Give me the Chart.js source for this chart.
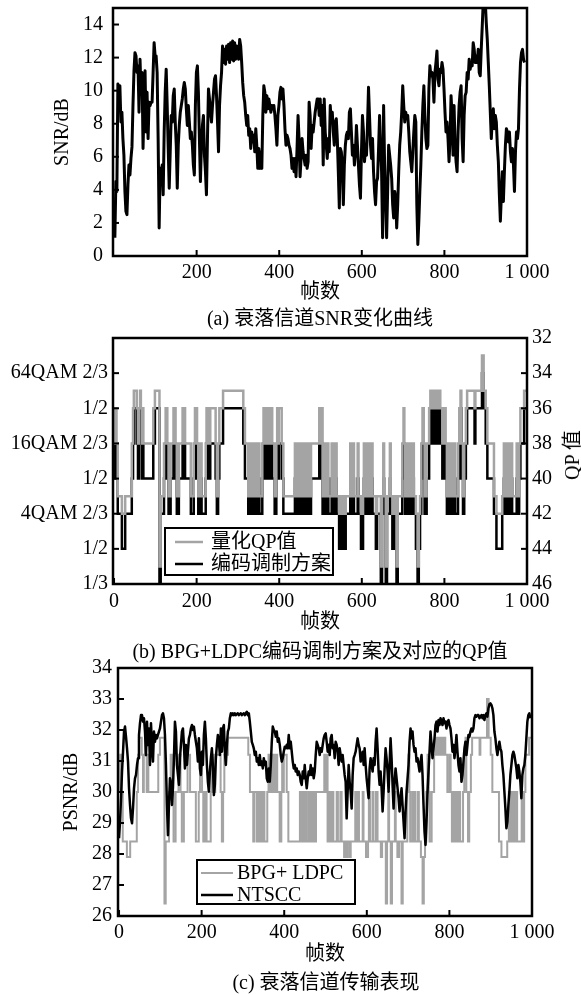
<!DOCTYPE html>
<html>
<head>
<meta charset="utf-8">
<script src="https://cdn.jsdelivr.net/npm/chart.js@4.4.1/dist/chart.umd.min.js"></script>
<style>
  body { margin: 0; background: #fff; }
  #page { position: relative; width: 581px; height: 995px; overflow: hidden;
          font-family: 'Liberation Serif', 'Noto Sans CJK SC', serif; color: #000; }
  canvas { position: absolute; left: 0; }
  .cap { position: absolute; font-size: 20px; line-height: 24px; white-space: nowrap;
         transform: translate(-50%, -50%); }
</style>
</head>
<body>
<div id="page">
  <canvas id="cA" width="581" height="330" style="top:0px"></canvas>
  <canvas id="cB" width="581" height="347" style="top:318px"></canvas>
  <canvas id="cC" width="581" height="342" style="top:653px"></canvas>
  <div class="cap" style="left:320px;top:318px">(a) 衰落信道SNR变化曲线</div>
  <div class="cap" style="left:320px;top:651px">(b) BPG+LDPC编码调制方案及对应的QP值</div>
  <div class="cap" style="left:326px;top:982px">(c) 衰落信道传输表现</div>
  <div class="cap" style="left:572px;top:455px;transform:translate(-50%,-50%) rotate(-90deg)">QP 值</div>
</div>
<script>
// (a) SNR per frame (about one value every 2.4 frames)
var snrDb = [
  1.1,4.5,3.9,10.4,9.1,10.3,8.1,8.7,7.1,6.1,
  3.9,2.7,2.5,4.3,5.5,4.9,5.9,6.6,9.1,11.2,
  12.3,12.1,11.1,11.5,8.7,11.9,9.9,11.1,6.5,9.1,
  11.2,7.5,9.9,7.1,9.3,9.1,9.3,9.3,11.1,12.9,
  12.1,12.1,11.1,7.1,1.7,5.3,4.5,5.5,3.7,7.5,
  9.9,11.3,9.1,6.5,4.1,6.3,8.5,8.1,9.7,10.1,
  8.1,6.7,4.1,6.7,7.9,8.7,9.1,9.5,10.1,10.5,
  10.1,8.9,7.9,9.1,8.1,7.1,7.5,6.7,5.5,4.9,
  9.1,11.1,11.5,9.9,7.1,4.5,6.7,7.9,8.5,6.1,
  5.1,3.7,7.1,10.1,9.5,8.7,8.1,9.1,9.9,10.7,
  10.9,9.7,8.1,6.3,9.1,10.3,11.1,12.7,11.7,12.5,
  11.6,12.7,11.9,12.8,11.7,12.9,11.9,13.0,11.8,12.9,
  11.9,12.7,12.5,11.9,13.1,12.7,11.7,10.5,9.7,9.3,
  8.5,7.9,8.5,7.3,7.7,6.5,7.5,6.9,7.3,6.3,
  7.7,6.7,5.3,6.5,5.3,6.3,5.3,8.5,10.3,9.9,
  8.7,9.7,8.9,9.5,9.1,8.7,9.1,8.9,9.1,8.5,
  7.7,6.7,8.5,9.1,9.9,10.2,9.5,10.1,9.1,7.7,
  6.7,7.3,7.1,6.7,6.5,6.1,5.3,5.9,5.1,5.9,
  4.8,6.5,8.5,7.1,4.8,5.9,7.1,6.3,5.9,5.5,
  6.1,5.3,5.7,9.3,8.5,6.5,7.9,7.5,8.1,8.7,
  9.1,9.5,9.5,
  8.5,9.5,7.9,9.1,5.5,9.5,7.5,6.7,5.9,7.1,
  6.3,9.1,8.1,8.7,7.5,6.7,8.1,8.3,7.1,5.1,
  2.9,6.5,6.3,5.5,3.1,5.5,6.7,7.3,7.5,7.1,
  8.7,8.9,7.5,6.1,6.7,5.5,6.3,7.9,6.7,5.5,
  4.3,3.5,6.3,8.5,7.5,5.7,6.5,6.1,7.9,10.2,
  8.5,6.7,5.9,7.1,5.1,3.9,3.1,4.5,4.7,6.5,
  8.5,6.7,5.1,1.1,9.1,5.5,3.1,1.1,3.9,6.7,
  6.1,5.5,4.7,3.1,2.3,3.9,3.5,1.7,3.1,5.1,
  6.7,7.5,8.7,10.3,9.1,8.1,8.7,8.3,8.5,7.5,
  6.3,5.7,5.1,6.3,7.5,8.5,8.1,3.1,0.7,2.1,
  3.9,5.5,7.5,9.1,10.3,8.5,7.1,6.5,6.7,10.1,
  11.5,10.9,11.1,10.7,9.3,11.1,11.7,12.4,10.7,10.3,
  11.3,11.1,11.7,11.3,10.1,8.7,7.5,8.1,7.1,5.7,
  7.1,9.7,8.5,6.1,9.1,6.7,5.7,5.1,7.5,9.1,
  9.9,10.3,7.1,5.7,8.5,9.7,9.9,11.1,10.7,11.9,
  11.3,11.7,11.5,12.9,12.5,11.7,12.1,11.7,12.5,11.1,
  10.9,12.5,13.9,15.4,16.2,15.4,14.1,13.1,11.7,10.3,
  8.7,7.1,8.3,8.9,7.7,8.5,8.1,6.7,5.7,3.7,
  2.1,3.7,5.1,3.3,5.1,6.7,7.7,7.5,6.9,7.5,
  6.3,5.7,6.5,5.5,3.9,6.3,7.5,7.1,7.7,10.1,
  11.7,12.3,12.5,11.9,11.7
];
var snrFrames = snrDb.map(function(v, i){ return 2 + i * 992 / (snrDb.length - 1); });

// (b)/(c) frames where the BPG+LDPC scheme switches
var stepFrames = [
  0,3,6,9,19,27,43,46,48,55,
  58,60,63,65,67,69,71,95,99,110,
  113,121,125,129,132,137,144,149,152,157,
  166,172,186,193,196,201,204,208,212,222,
  224,228,233,246,249,252,255,264,313,317,
  325,327,333,336,340,343,347,350,352,359,
  362,365,367,369,372,374,377,379,381,383,
  389,393,395,397,399,406,410,438,440,443,
  445,448,450,453,455,460,462,466,468,471,
  473,477,497,500,503,505,509,512,516,519,
  527,530,536,539,545,548,550,552,557,561,
  572,575,579,581,590,592,598,603,605,608,
  614,616,622,626,634,637,646,649,652,654,
  658,661,668,670,674,678,684,687,698,701,
  703,705,710,712,716,718,724,726,731,735,
  738,741,744,747,750,752,757,763,766,768,
  772,774,777,779,782,785,788,790,795,800,
  803,806,810,812,816,818,822,826,833,836,
  839,841,845,848,852,855,873,875,891,895,
  900,904,920,926,940,944,946,950,952,956,
  958,962,964,975,977,981,984,993,1000
];
// scheme index: 0=1/3, 1=4QAM 1/2, 2=4QAM 2/3, 3=16QAM 1/2, 4=16QAM 2/3, 5=64QAM 1/2, 6=64QAM 2/3
var schemeLevel = [
  3,4,3,2,1,2,3,4,5,4,
  3,4,5,4,3,4,3,4,5,0,
  2,3,4,3,2,3,4,3,2,3,
  4,3,2,3,4,3,2,3,2,3,
  4,3,4,3,2,3,4,5,4,3,
  2,3,2,3,2,3,2,3,2,3,
  4,3,4,3,4,3,4,3,4,3,
  2,3,4,3,4,3,2,3,2,3,
  2,3,2,3,2,3,2,3,2,3,
  2,3,4,3,4,2,3,2,3,2,
  3,2,3,2,1,2,1,2,1,2,
  3,2,3,2,3,2,1,2,3,2,
  3,2,3,2,1,2,0,2,3,2,
  0,2,3,2,1,2,0,2,3,4,
  3,2,3,2,3,2,3,2,1,0,
  1,2,3,4,3,2,3,4,5,4,
  5,4,5,4,5,4,5,4,3,4,
  3,2,3,2,3,2,3,2,3,4,
  5,3,2,3,4,5,4,5,6,5,
  4,3,2,1,2,3,2,3,2,3,
  2,3,2,3,2,3,4,5,5
];
var qpValue = [
  38,36,38,41,42,41,38,36,35,36,
  38,36,35,36,38,36,38,36,35,45,
  41,38,36,38,41,38,36,38,41,38,
  36,38,41,38,36,38,41,38,41,38,
  36,38,36,38,41,38,36,35,36,38,
  41,38,41,38,41,38,41,38,41,38,
  36,38,36,38,36,38,36,38,36,38,
  41,38,36,38,36,38,41,38,41,38,
  41,38,41,38,41,38,41,38,41,38,
  41,38,36,38,36,41,38,41,38,41,
  38,41,38,41,42,41,42,41,42,41,
  38,41,38,41,38,41,42,41,38,41,
  38,41,38,41,42,41,45,41,38,41,
  45,41,38,41,42,41,45,41,38,36,
  38,41,38,41,38,41,38,41,42,45,
  42,41,38,36,38,41,38,36,35,36,
  35,36,35,36,35,36,35,36,38,36,
  38,41,38,41,38,41,38,41,38,36,
  35,38,41,38,36,35,36,35,33,35,
  36,38,41,42,41,38,41,38,41,38,
  41,38,41,38,41,38,36,35,35
];
var bpgPsnr = [
  30.0,31.2,30.0,28.4,27.9,28.4,30.0,31.2,31.75,31.2,
  30.0,31.2,31.75,31.2,30.0,31.2,30.0,31.2,31.75,26.4,
  28.4,30.0,31.2,30.0,28.4,30.0,31.2,30.0,28.4,30.0,
  31.2,30.0,28.4,30.0,31.2,30.0,28.4,30.0,28.4,30.0,
  31.2,30.0,31.2,30.0,28.4,30.0,31.2,31.75,31.2,30.0,
  28.4,30.0,28.4,30.0,28.4,30.0,28.4,30.0,28.4,30.0,
  31.2,30.0,31.2,30.0,31.2,30.0,31.2,30.0,31.2,30.0,
  28.4,30.0,31.2,30.0,31.2,30.0,28.4,30.0,28.4,30.0,
  28.4,30.0,28.4,30.0,28.4,30.0,28.4,30.0,28.4,30.0,
  28.4,30.0,31.2,30.0,31.2,28.4,30.0,28.4,30.0,28.4,
  30.0,28.4,30.0,28.4,27.9,28.4,27.9,28.4,27.9,28.4,
  30.0,28.4,30.0,28.4,30.0,28.4,27.9,28.4,30.0,28.4,
  30.0,28.4,30.0,28.4,27.9,28.4,26.4,28.4,30.0,28.4,
  26.4,28.4,30.0,28.4,27.9,28.4,26.4,28.4,30.0,31.2,
  30.0,28.4,30.0,28.4,30.0,28.4,30.0,28.4,27.9,26.4,
  27.9,28.4,30.0,31.2,30.0,28.4,30.0,31.2,31.75,31.2,
  31.75,31.2,31.75,31.2,31.75,31.2,31.75,31.2,30.0,31.2,
  30.0,28.4,30.0,28.4,30.0,28.4,30.0,28.4,30.0,31.2,
  31.75,30.0,28.4,30.0,31.2,31.75,31.2,31.75,33.0,31.75,
  31.2,30.0,28.4,27.9,28.4,30.0,28.4,30.0,28.4,30.0,
  28.4,30.0,28.4,30.0,28.4,30.0,31.2,31.75,31.75
];
// (c) NTSCC PSNR per frame
var ntsccPsnr = [
  28.51,29.04,29.80,30.66,31.30,31.95,32.11,31.78,31.41,30.98,
  30.12,29.58,29.15,28.99,29.47,30.12,30.44,30.55,30.87,31.09,
  31.84,32.22,32.48,32.48,32.27,32.38,31.95,31.19,32.27,31.52,
  32.05,30.87,32.22,31.52,30.98,31.95,31.62,31.84,31.73,31.84,
  31.95,32.05,32.27,32.48,32.54,32.38,31.84,30.87,29.58,28.61,
  29.58,30.44,30.33,29.58,30.12,31.09,32.27,31.95,30.87,30.55,
  30.23,31.09,31.52,31.95,32.05,31.52,30.76,31.52,30.87,31.30,
  31.73,31.84,32.05,32.16,32.00,32.11,31.84,31.62,31.41,30.98,
  31.73,30.76,30.55,31.30,30.87,31.84,32.27,31.73,30.87,30.33,
  30.01,30.66,31.09,31.41,30.87,29.90,30.23,31.09,31.52,31.84,
  31.62,31.19,32.05,31.30,32.05,32.16,31.30,30.87,31.52,31.95,
  32.05,32.38,32.54,32.48,32.54,32.48,32.54,32.48,32.51,32.54,
  32.48,32.51,32.54,32.48,32.51,32.54,32.48,32.54,32.59,32.48,
  32.54,32.27,31.95,31.62,31.52,31.41,31.19,31.30,30.98,31.09,
  30.87,31.19,30.87,30.98,30.76,31.09,30.87,30.98,30.44,30.33,
  30.76,30.33,30.87,31.62,32.11,32.00,31.95,31.78,31.95,31.62,
  31.73,31.52,31.19,30.98,31.09,31.30,31.46,31.41,31.52,31.41,
  31.84,31.41,31.62,31.30,30.98,30.76,30.87,30.66,30.76,30.55,
  30.66,30.55,30.33,30.23,30.66,30.44,30.87,30.44,30.12,30.44,
  30.66,30.55,30.87,30.55,30.76,30.44,30.66,31.19,31.62,31.52,
  31.41,31.19,31.41,31.30,31.52,31.73,31.84,31.89,
  31.62,31.30,31.52,31.19,31.73,31.84,31.41,31.52,31.09,31.62,
  31.52,31.30,30.87,31.41,31.19,30.98,31.19,30.87,30.55,30.33,
  29.15,30.01,30.87,30.33,30.01,29.47,30.55,31.09,31.19,31.30,
  31.52,31.73,31.52,31.41,30.98,31.09,31.30,30.87,31.41,30.87,
  30.44,30.12,29.80,30.76,31.09,30.87,30.66,31.09,30.87,31.62,
  32.05,31.41,30.66,30.23,30.66,30.12,29.37,30.01,30.76,31.41,
  31.09,30.66,30.01,30.87,31.73,31.09,30.23,29.47,30.33,30.76,
  30.44,30.12,29.80,29.37,29.80,30.12,29.58,29.04,28.51,29.37,
  30.01,30.44,30.87,31.62,32.05,31.73,31.95,31.52,31.30,31.41,
  30.98,31.09,30.87,30.66,30.98,31.19,30.55,29.58,28.72,28.29,
  29.04,30.01,30.66,31.30,31.95,31.52,31.09,31.41,31.73,32.16,
  32.27,31.95,32.32,32.16,32.38,32.27,32.16,32.38,32.22,32.27,
  32.05,32.27,32.32,32.16,32.05,31.73,31.30,31.52,31.09,31.41,
  31.84,31.30,30.87,30.66,31.09,30.33,30.55,30.98,31.41,31.62,
  31.19,31.52,31.84,31.78,31.95,32.05,31.95,32.05,32.38,32.48,
  32.43,32.48,32.48,32.38,32.43,32.48,32.38,32.48,32.32,32.48,
  32.54,32.43,32.70,32.83,32.86,32.81,32.70,32.48,31.95,31.73,
  31.41,31.19,31.41,31.62,31.41,31.30,30.87,30.55,30.01,29.47,
  28.83,29.04,29.58,30.01,30.55,30.87,31.19,31.30,31.19,30.98,
  30.76,30.44,30.87,30.66,30.33,29.80,30.55,30.76,30.87,31.19,
  31.73,32.27,32.48,32.54,32.38
];
var ntsccFrames = ntsccPsnr.map(function(v, i){ return i * 996 / (ntsccPsnr.length - 1); });

var schemeLabels = ['1/3', '1/2', '4QAM 2/3', '1/2', '16QAM 2/3', '1/2', '64QAM 2/3'];
var framesTicksA = [200, 400, 600, 800, 1000];
var framesTicks = [0, 200, 400, 600, 800, 1000];
var snrTicks = [0, 2, 4, 6, 8, 10, 12, 14];
var qpTicks = [32, 34, 36, 38, 40, 42, 44, 46];
var psnrTicks = [26, 27, 28, 29, 30, 31, 32, 33, 34];

var GRAY = '#a4a4a4';
Chart.defaults.font.family = "'Liberation Serif', 'Noto Sans CJK SC', serif";
Chart.defaults.font.size = 20;
Chart.defaults.color = '#000';

function fmtFrame(v) { return v === 1000 ? '1 000' : String(v); }
function pts(xs, ys) { return xs.map(function(x, i){ return { x: x, y: ys[i] }; }); }
function fixTicks(list) { return function(s){ s.ticks = list.map(function(v){ return { value: v }; }); }; }
function fixW(w) { return function(s){ s.width = w; s.paddingTop = 0; s.paddingBottom = 0; }; }
function fixH(h) { return function(s){ s.height = h; s.paddingLeft = 0; s.paddingRight = 0; }; }

// box, inward ticks and legend
var framePlugin = {
  id: 'frame',
  afterDatasetsDraw: function(chart, args, opts) {
    var ctx = chart.ctx, a = chart.chartArea;
    ctx.save();
    ctx.strokeStyle = '#000';
    ctx.lineWidth = 2;
    (opts.ticks || []).forEach(function(id){
      var s = chart.scales[id];
      s.ticks.forEach(function(t){
        var p = s.getPixelForValue(t.value);
        ctx.beginPath();
        if (s.isHorizontal()) { ctx.moveTo(p, a.bottom); ctx.lineTo(p, a.bottom - 6); }
        else if (s.position === 'left') { ctx.moveTo(a.left, p); ctx.lineTo(a.left + 6, p); }
        else { ctx.moveTo(a.right, p); ctx.lineTo(a.right - 6, p); }
        ctx.stroke();
      });
    });
    ctx.lineWidth = 2.5;
    ctx.strokeRect(a.left, a.top, a.right - a.left, a.bottom - a.top);
    var lg = opts.legend;
    if (lg) {
      ctx.fillStyle = '#fff';
      ctx.fillRect(lg.x, lg.y, lg.w, lg.h);
      ctx.lineWidth = 2;
      ctx.strokeRect(lg.x, lg.y, lg.w, lg.h);
      ctx.font = "20px 'Liberation Serif', 'Noto Sans CJK SC', serif";
      ctx.textBaseline = 'middle';
      lg.rows.forEach(function(r){
        var ds = chart.data.datasets[r.ds];
        ctx.strokeStyle = ds.borderColor;
        ctx.lineWidth = ds.borderWidth;
        ctx.beginPath(); ctx.moveTo(lg.x0, r.y); ctx.lineTo(lg.x1, r.y); ctx.stroke();
        ctx.fillStyle = '#000';
        ctx.fillText(ds.label, lg.tx, r.y + 1);
      });
    }
    ctx.restore();
  }
};

var base = { responsive: false, animation: false, devicePixelRatio: 1 };
var noGrid = { display: false, drawTicks: false };

// (a)
new Chart(document.getElementById('cA'), {
  type: 'line',
  data: { datasets: [{
    data: pts(snrFrames, snrDb), borderColor: '#000', borderWidth: 3,
    pointRadius: 0, borderJoinStyle: 'round', clip: 0
  }] },
  options: Object.assign({}, base, {
    layout: { padding: { top: 8, right: 54, left: 0, bottom: 0 } },
    plugins: { legend: { display: false }, tooltip: { enabled: false },
               frame: { ticks: ['x', 'y'] } },
    scales: {
      x: { type: 'linear', min: -2.5, max: 1000, grid: noGrid, border: { display: false },
           afterBuildTicks: fixTicks(framesTicksA), afterFit: fixH(74),
           ticks: { padding: 5, maxRotation: 0, autoSkip: false, callback: fmtFrame },
           title: { display: true, text: '帧数', padding: { top: 0, bottom: 25 } } },
      y: { min: 0, max: 15, grid: noGrid, border: { display: false },
           afterBuildTicks: fixTicks(snrTicks), afterFit: fixW(113),
           ticks: { padding: 10 },
           title: { display: true, text: 'SNR/dB', padding: { top: 51, bottom: 0 } } }
    }
  }),
  plugins: [framePlugin]
});

// (b)
new Chart(document.getElementById('cB'), {
  type: 'line',
  data: { datasets: [
    { label: '量化QP值', yAxisID: 'y2', data: pts(stepFrames, qpValue), stepped: true,
      borderColor: GRAY, borderWidth: 2.5, pointRadius: 0, clip: 0 },
    { label: '编码调制方案', yAxisID: 'y', data: pts(stepFrames, schemeLevel), stepped: true,
      borderColor: '#000', borderWidth: 2.5, pointRadius: 0, clip: 0 }
  ] },
  options: Object.assign({}, base, {
    layout: { padding: { top: 20, right: 0, left: 0, bottom: 0 } },
    plugins: { legend: { display: false }, tooltip: { enabled: false },
               frame: { ticks: ['x', 'y', 'y2'],
                        legend: { x: 165, y: 210, w: 168, h: 47, x0: 175, x1: 203, tx: 211,
                                  rows: [{ ds: 0, y: 224 }, { ds: 1, y: 246 }] } } },
    scales: {
      x: { type: 'linear', min: -2.5, max: 1000, grid: noGrid, border: { display: false },
           afterBuildTicks: fixTicks(framesTicks), afterFit: fixH(81),
           ticks: { padding: 6, maxRotation: 0, autoSkip: false, callback: fmtFrame },
           title: { display: true, text: '帧数', padding: { top: 0, bottom: 30 } } },
      y: { position: 'left', min: 0, max: 7, grid: noGrid, border: { display: false },
           afterBuildTicks: fixTicks([0, 1, 2, 3, 4, 5, 6]), afterFit: fixW(113),
           ticks: { padding: 5, callback: function(v){ return schemeLabels[v]; } } },
      y2: { position: 'right', min: 32, max: 46, reverse: true, grid: noGrid, border: { display: false },
            afterBuildTicks: fixTicks(qpTicks), afterFit: fixW(54),
            ticks: { padding: 5 } }
    }
  }),
  plugins: [framePlugin]
});

// (c)
new Chart(document.getElementById('cC'), {
  type: 'line',
  data: { datasets: [
    { label: 'BPG+ LDPC', data: pts(stepFrames, bpgPsnr), stepped: true, order: 1,
      borderColor: GRAY, borderWidth: 2, pointRadius: 0, clip: 0 },
    { label: 'NTSCC', data: pts(ntsccFrames, ntsccPsnr), order: 0,
      borderColor: '#000', borderWidth: 2.5, pointRadius: 0, borderJoinStyle: 'round', clip: 0 }
  ] },
  options: Object.assign({}, base, {
    layout: { padding: { top: 15, right: 49, left: 0, bottom: 0 } },
    plugins: { legend: { display: false }, tooltip: { enabled: false },
               frame: { ticks: ['x', 'y'],
                        legend: { x: 197, y: 207, w: 158, h: 44, x0: 201, x1: 233, tx: 237,
                                  rows: [{ ds: 0, y: 220 }, { ds: 1, y: 242 }] } } },
    scales: {
      x: { type: 'linear', min: -2.5, max: 1000, grid: noGrid, border: { display: false },
           afterBuildTicks: fixTicks(framesTicks), afterFit: fixH(79),
           ticks: { padding: 5, maxRotation: 0, autoSkip: false, callback: fmtFrame },
           title: { display: true, text: '帧数', padding: { top: 0, bottom: 28 } } },
      y: { min: 26, max: 34, grid: noGrid, border: { display: false },
           afterBuildTicks: fixTicks(psnrTicks), afterFit: fixW(118),
           ticks: { padding: 6 },
           title: { display: true, text: 'PSNR/dB', padding: { top: 60, bottom: 0 } } }
    }
  }),
  plugins: [framePlugin]
});
</script>
</body>
</html>
